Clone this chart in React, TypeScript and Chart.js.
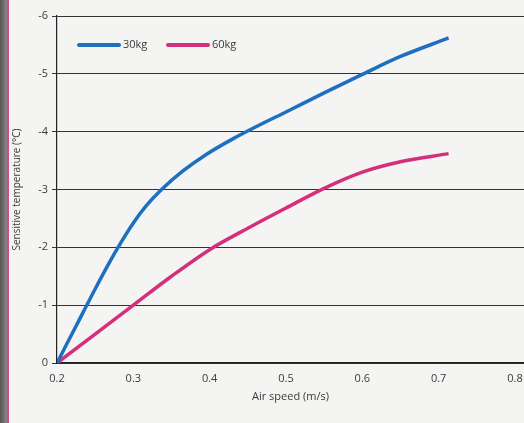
import React, { useEffect, useRef } from "react";
import { Chart, registerables } from "chart.js";

Chart.register(...registerables);

const airSpeed30 = [0.2, 0.225, 0.25, 0.27, 0.28, 0.3, 0.317, 0.337, 0.365, 0.396, 0.431, 0.466, 0.5, 0.55, 0.6, 0.65, 0.713];
const temp30kg = [0, -0.64, -1.28, -1.77, -2.0, -2.42, -2.72, -3.0, -3.32, -3.61, -3.88, -4.12, -4.34, -4.67, -4.99, -5.3, -5.62];
const airSpeed60 = [0.2, 0.25, 0.3, 0.35, 0.4, 0.45, 0.5, 0.55, 0.6, 0.65, 0.713];
const temp60kg = [0, -0.5, -1.0, -1.5, -1.96, -2.33, -2.68, -3.02, -3.3, -3.48, -3.62];
const seriesLabels = ["30kg", "60kg"];
const xTickValues = [0.2, 0.3, 0.4, 0.5, 0.6, 0.7, 0.8];

const FONT = "'Open Sans', 'Noto Sans', sans-serif";

const innerLegend = {
  id: "innerLegend",
  afterDraw(chart: any) {
    const ctx = chart.ctx;
    const area = chart.chartArea;
    const y = area.top + 29;
    let x = area.left + 22;
    ctx.save();
    ctx.font = `11px ${FONT}`;
    ctx.textBaseline = "middle";
    chart.data.datasets.forEach((ds: any) => {
      ctx.strokeStyle = ds.borderColor;
      ctx.lineWidth = 4;
      ctx.lineCap = "round";
      ctx.beginPath();
      ctx.moveTo(x, y);
      ctx.lineTo(x + 40, y);
      ctx.stroke();
      ctx.fillStyle = "#3a3a3a";
      ctx.fillText(ds.label, x + 44, y);
      x += 89;
    });
    ctx.restore();
  },
};

export default function App() {
  const ref = useRef<HTMLCanvasElement | null>(null);
  useEffect(() => {
    document.body.style.margin = "0";
    document.body.style.background = "#f4f5f3";
    const toXY = (xs: number[], vals: number[]) => vals.map((v, i) => ({ x: xs[i], y: v }));
    const chart = new Chart(ref.current as HTMLCanvasElement, {
      type: "line",
      data: {
        datasets: [
          {
            label: seriesLabels[0],
            data: toXY(airSpeed30, temp30kg),
            borderColor: "#1f6fc0",
            borderWidth: 3.5,
            pointRadius: 0,
            cubicInterpolationMode: "monotone",
            fill: false,
          },
          {
            label: seriesLabels[1],
            data: toXY(airSpeed60, temp60kg),
            borderColor: "#d42f7c",
            borderWidth: 3.5,
            pointRadius: 0,
            cubicInterpolationMode: "monotone",
            fill: false,
          },
        ],
      },
      options: {
        animation: false,
        responsive: false,
        layout: { padding: { top: 16, right: 0, left: 0, bottom: 20 } },
        plugins: { legend: { display: false }, tooltip: { enabled: false } },
        scales: {
          x: {
            type: "linear",
            min: 0.2,
            max: 0.8118,
            afterBuildTicks: (scale: any) => {
              scale.ticks = xTickValues.map((v) => ({ value: v }));
            },
            afterFit: (scale: any) => {
              scale.height = 40;
            },
            grid: { display: false, drawTicks: true },
            border: { display: true, color: "#222", width: 1.2 },
            ticks: {
              color: "#3a3a3a",
              font: { family: FONT, size: 11 },
              padding: 1,
              maxRotation: 0,
              callback: (v: any) => Number(v).toFixed(1),
            },
            title: {
              display: true,
              text: "Air speed (m/s)",
              color: "#3a3a3a",
              font: { family: FONT, size: 11 },
              padding: { top: 0, bottom: 0 },
            },
          },
          y: {
            min: -6,
            max: 0,
            reverse: true,
            afterFit: (scale: any) => {
              scale.width = 57;
            },
            grid: {
              color: "#333",
              lineWidth: 1,
              drawTicks: true,
              tickLength: 5,
            },
            border: { display: true, color: "#222", width: 1.2 },
            ticks: {
              stepSize: 1,
              color: "#3a3a3a",
              font: { family: FONT, size: 11 },
              padding: 4,
            },
            title: {
              display: true,
              text: "Sensitive temperature (°C)",
              color: "#3a3a3a",
              font: { family: FONT, size: 10 },
              padding: { top: 11, bottom: 0 },
            },
          },
        },
      },
      plugins: [innerLegend],
    } as any);
    return () => chart.destroy();
  }, []);
  return (
    <div style={{ position: "relative", width: 524, height: 423 }}>
      <canvas ref={ref} width={524} height={423} style={{ display: "block" }} />
      <div
        style={{
          position: "absolute",
          left: 0,
          top: 0,
          width: 7,
          height: 423,
          background: "linear-gradient(to right, #555, #888)",
        }}
      />
      <div
        style={{
          position: "absolute",
          left: 7,
          top: 0,
          width: 2,
          height: 423,
          background: "#d9468a",
        }}
      />
    </div>
  );
}
